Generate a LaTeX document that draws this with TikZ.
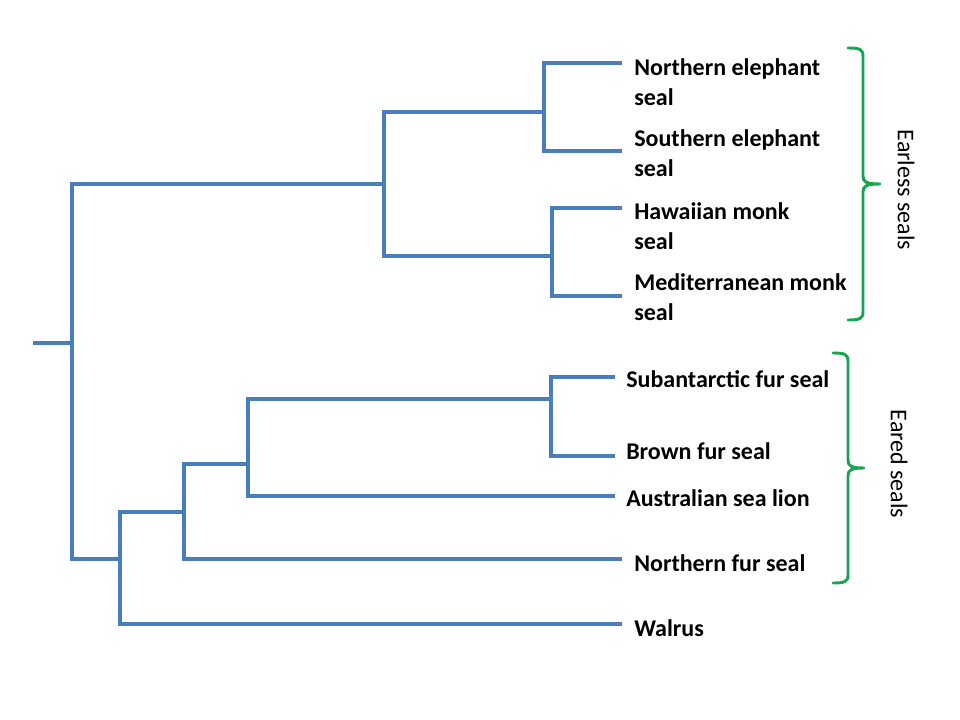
\documentclass[tikz,border=0pt]{standalone}
\usepackage{fontspec}
\setmainfont{Carlito}
\begin{document}
\begin{tikzpicture}[x=0.75pt,y=-0.75pt,
  branch/.style={draw=treeblue,line width=2.6pt,line join=miter},
  brace/.style={draw=bracegreen,line width=2.2pt,line cap=round,line join=round},
  leaf/.style={anchor=base west,inner sep=0pt,font=\fontsize{18}{21.9}\selectfont\bfseries},
  group/.style={rotate=-90,inner sep=0pt,font=\fontsize{18}{21.6}\selectfont}]
\definecolor{treeblue}{RGB}{74,126,187}
\definecolor{bracegreen}{RGB}{22,165,80}
\useasboundingbox[fill=white] (0,0) rectangle (960,720);
% internal nodes
\coordinate (r0) at (33,343);
\coordinate (nroot) at (72,343);
\coordinate (nearless) at (384,184);
\coordinate (neleph) at (544,112);
\coordinate (nmonk) at (552,256);
\coordinate (nb) at (120,559);
\coordinate (nc) at (184,512);
\coordinate (nd) at (248,464);
\coordinate (ne) at (551,399);
% leaf ends
\coordinate (l1) at (622,63);
\coordinate (l2) at (622,151);
\coordinate (l3) at (622,208);
\coordinate (l4) at (622,296);
\coordinate (l5) at (615,377);
\coordinate (l6) at (615,456);
\coordinate (l7) at (615,496);
\coordinate (l8) at (622,559);
\coordinate (l9) at (622,624);
% branches
\path[branch] (r0) -- (nroot);
\path[branch] (nroot) |- (nearless);
\path[branch] (nearless) |- (neleph);
\path[branch] (nearless) |- (nmonk);
\path[branch] (neleph) |- (l1);
\path[branch] (neleph) |- (l2);
\path[branch] (nmonk) |- (l3);
\path[branch] (nmonk) |- (l4);
\path[branch] (nroot) |- (nb);
\path[branch] (nb) |- (nc);
\path[branch] (nb) |- (l9);
\path[branch] (nc) |- (nd);
\path[branch] (nc) |- (l8);
\path[branch] (nd) |- (ne);
\path[branch] (nd) |- (l7);
\path[branch] (ne) |- (l5);
\path[branch] (ne) |- (l6);
% labels
\newcommand{\twoline}[2]{\begin{tabular}[t]{@{}l@{}}#1\\#2\end{tabular}}
\node[leaf] (t1) at (634,76) {\twoline{Northern elephant}{seal}};
\node[leaf] (t2) at (634,147) {\twoline{Southern elephant}{seal}};
\node[leaf] (t3) at (634,220) {\twoline{Hawaiian monk}{seal}};
\node[leaf] (t4) at (634,291) {\twoline{Mediterranean monk}{seal}};
\node[leaf] (t5) at (626,387) {Subantarctic fur seal};
\node[leaf] (t6) at (626,459) {Brown fur seal};
\node[leaf] (t7) at (626,506) {Australian sea lion};
\node[leaf] (t8) at (634,571) {Northern fur seal};
\node[leaf] (t9) at (634,636) {Walrus};
% braces
\path[brace] (848,48) .. controls (859,48) and (863,49) .. (863,56) -- (863,176)
  .. controls (863,182) and (866,184) .. (880,184)
  .. controls (866,184) and (863,186) .. (863,192) -- (863,312)
  .. controls (863,319) and (859,320) .. (848,320);
\path[brace] (833,353) .. controls (844,353) and (848,354) .. (848,361) -- (848,460)
  .. controls (848,466) and (851,468) .. (864,468)
  .. controls (851,468) and (848,470) .. (848,476) -- (848,575)
  .. controls (848,582) and (844,583) .. (833,583);
\node[group] (g1) at (906,190) {Earless seals};
\node[group] (g2) at (899,464) {Eared seals};
\end{tikzpicture}
\end{document}
